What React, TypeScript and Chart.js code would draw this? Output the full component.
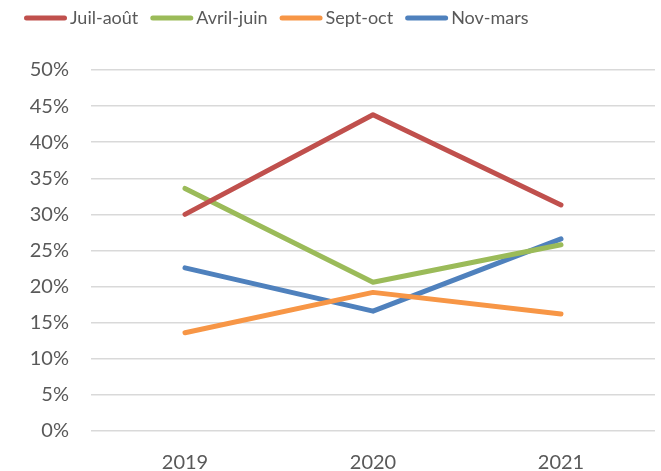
import React, { useEffect, useRef } from "react";
import { Chart, registerables } from "chart.js";

Chart.register(...registerables);

const categories = ["2019", "2020", "2021"];
const seriesNames = ["Juil-août", "Avril-juin", "Sept-oct", "Nov-mars"];
const juilAout = [0.300, 0.438, 0.313];
const avrilJuin = [0.336, 0.206, 0.258];
const septOct = [0.136, 0.192, 0.162];
const novMars = [0.226, 0.166, 0.266];
const seriesColors = ["#C0504D", "#9BBB59", "#F79646", "#4F81BD"];
const yTicks = [0, 0.05, 0.1, 0.15, 0.2, 0.25, 0.3, 0.35, 0.4, 0.45, 0.5];

const FONT = "Lato";
const TEXT = "#595959";

const legendPlugin = {
  id: "customLegend",
  afterDraw(chart: any) {
    const ctx = chart.ctx;
    ctx.save();
    ctx.font = `18px ${FONT}`;
    ctx.textBaseline = "middle";
    ctx.textAlign = "left";
    let x = 24;
    const y = 18;
    chart.data.datasets.forEach((ds: any) => {
      ctx.strokeStyle = ds.borderColor;
      ctx.lineWidth = 5;
      ctx.lineCap = "round";
      ctx.beginPath();
      ctx.moveTo(x + 2.5, y);
      ctx.lineTo(x + 40.5, y);
      ctx.stroke();
      x += 46;
      ctx.fillStyle = TEXT;
      ctx.fillText(ds.label, x, y);
      x += ctx.measureText(ds.label).width + 12;
    });
    ctx.restore();
  },
};

export default function App() {
  const ref = useRef<HTMLCanvasElement>(null);
  useEffect(() => {
    document.body.style.margin = "0";
    const values = [juilAout, avrilJuin, septOct, novMars];
    const chart = new Chart(ref.current!, {
      type: "line",
      data: {
        labels: categories,
        datasets: seriesNames.map((name, i) => ({
          label: name,
          data: values[i],
          borderColor: seriesColors[i],
          backgroundColor: seriesColors[i],
          borderWidth: 5,
          pointRadius: 0,
          borderCapStyle: "round" as const,
          borderJoinStyle: "round" as const,
          tension: 0,
        })),
      },
      options: {
        animation: false,
        responsive: false,
        maintainAspectRatio: false,
        layout: { padding: { top: 70, right: 6, left: 0, bottom: 0 } },
        plugins: {
          legend: { display: false },
          tooltip: { enabled: false },
        },
        scales: {
          x: {
            offset: true,
            grid: { display: false, drawTicks: false },
            border: { display: false },
            ticks: {
              color: TEXT,
              font: { family: FONT, size: 20 },
              padding: 20,
              maxRotation: 0,
            },
            afterFit: (s: any) => {
              s.height = 40;
            },
          },
          y: {
            min: 0,
            max: 0.5,
            afterBuildTicks: (s: any) => {
              s.ticks = yTicks.map((v) => ({ value: v }));
            },
            grid: { color: "#D9D9D9", lineWidth: 1.5, drawTicks: false },
            border: { display: false },
            ticks: {
              color: TEXT,
              font: { family: FONT, size: 20 },
              padding: 22,
              callback: (v: any) => `${Math.round(Number(v) * 100)}%`,
            },
            afterFit: (s: any) => {
              s.width = 91;
            },
          },
        },
      },
      plugins: [legendPlugin],
    });
    return () => chart.destroy();
  }, []);
  return (
    <div style={{ width: 661, height: 471 }}>
      <canvas ref={ref} width={661} height={471} style={{ display: "block" }} />
    </div>
  );
}
